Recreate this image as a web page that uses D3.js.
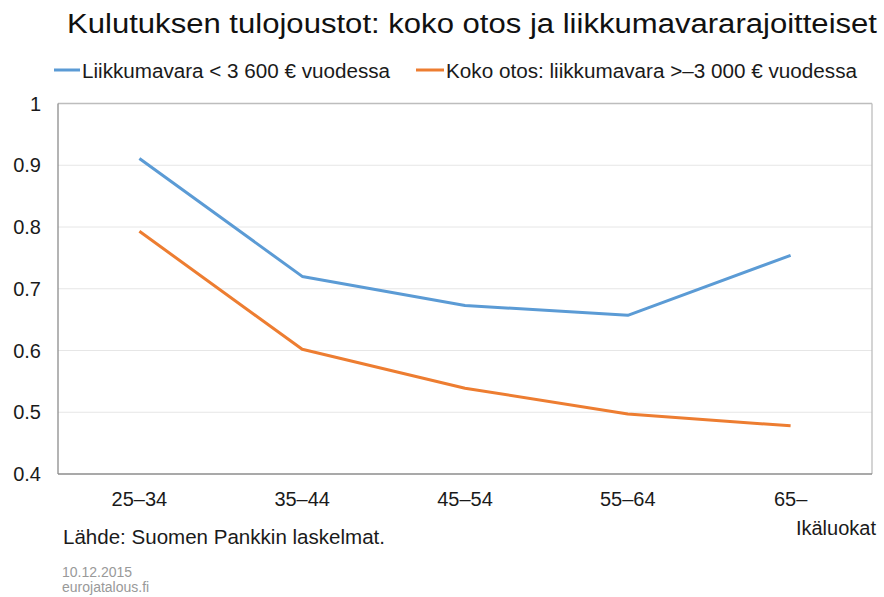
<!DOCTYPE html>
<html><head><meta charset="utf-8">
<script src="https://cdn.jsdelivr.net/npm/d3@7"></script>
<style>body{margin:0;background:#fff;} svg{display:block;font-family:"Liberation Sans",Arial,sans-serif;}</style>
</head><body>
<svg id="c" width="884" height="597"></svg>
<script>
const categories = ["25–34","35–44","45–54","55–64","65–"];
const seriesNames = ["Liikkumavara < 3 600 € vuodessa","Koko otos: liikkumavara >–3 000 € vuodessa"];
const blueValues = [0.911, 0.720, 0.673, 0.657, 0.754];
const orangeValues = [0.793, 0.602, 0.539, 0.497, 0.478];
const yTicks = [0.4, 0.5, 0.6, 0.7, 0.8, 0.9, 1];
const colors = ["#5B9BD5", "#ED7D31"];

const svg = d3.select("#c");
const L = 58, R = 872, T = 103.5, B = 474;
const x = d3.scaleBand().domain(categories).range([L, R]);
const y = d3.scaleLinear().domain([0.4, 1]).range([B, T]);

// gridlines
svg.append("g").selectAll("line").data(yTicks.slice(1, -1)).join("line")
  .attr("x1", L).attr("x2", R).attr("y1", d => y(d)).attr("y2", d => y(d))
  .attr("stroke", "#e6e6e6").attr("stroke-width", 1);

// plot frame
svg.append("line").attr("x1", L).attr("x2", R).attr("y1", T).attr("y2", T).attr("stroke", "#bdbdbd").attr("stroke-width", 1.3);
svg.append("line").attr("x1", R).attr("x2", R).attr("y1", T).attr("y2", B).attr("stroke", "#bdbdbd").attr("stroke-width", 1.3);
svg.append("line").attr("x1", L).attr("x2", L).attr("y1", T).attr("y2", B).attr("stroke", "#8c8c8c").attr("stroke-width", 1.3);
svg.append("line").attr("x1", L).attr("x2", R).attr("y1", B).attr("y2", B).attr("stroke", "#8c8c8c").attr("stroke-width", 1.3);

// y labels
svg.append("g").selectAll("text").data(yTicks).join("text")
  .attr("x", 41).attr("y", d => y(d) + 7).attr("text-anchor", "end")
  .attr("font-size", 20).attr("fill", "#1a1a1a").text(d => d3.format("")(d));

// x labels
svg.append("g").selectAll("text").data(categories).join("text")
  .attr("x", d => x(d) + x.bandwidth() / 2)
  .attr("y", 506).attr("text-anchor", "middle")
  .attr("font-size", 20).attr("fill", "#1a1a1a").text(d => d);

// lines
const line = d3.line().x((d, i) => x(categories[i]) + x.bandwidth() / 2).y(d => y(d));
[blueValues, orangeValues].forEach((vals, k) => {
  svg.append("path").datum(vals).attr("d", line).attr("fill", "none")
    .attr("stroke", colors[k]).attr("stroke-width", 3).attr("stroke-linejoin", "round");
});

// title
svg.append("text").attr("x", 67).attr("y", 33).attr("font-size", 27)
  .attr("textLength", 810).attr("lengthAdjust", "spacingAndGlyphs")
  .attr("fill", "#111").text("Kulutuksen tulojoustot: koko otos ja liikkumavararajoitteiset");

// legend
const legend = [
  {x1: 54, x2: 80, tx: 82, len: 308},
  {x1: 416, x2: 444, tx: 446, len: 411}
];
legend.forEach((l, k) => {
  svg.append("line").attr("x1", l.x1).attr("x2", l.x2).attr("y1", 70).attr("y2", 70)
    .attr("stroke", colors[k]).attr("stroke-width", 3);
  svg.append("text").attr("x", l.tx).attr("y", 77.5).attr("font-size", 19.5)
    .attr("textLength", l.len).attr("lengthAdjust", "spacingAndGlyphs")
    .attr("fill", "#1a1a1a").text(seriesNames[k]);
});

// axis title
svg.append("text").attr("x", 876).attr("y", 535).attr("text-anchor", "end")
  .attr("font-size", 20).attr("fill", "#1a1a1a").text("Ikäluokat");

// source
svg.append("text").attr("x", 63).attr("y", 544).attr("font-size", 20.5)
  .attr("textLength", 322).attr("lengthAdjust", "spacingAndGlyphs")
  .attr("fill", "#1a1a1a").text("Lähde: Suomen Pankkin laskelmat.");
svg.append("text").attr("x", 62).attr("y", 577).attr("font-size", 14)
  .attr("fill", "#999").text("10.12.2015");
svg.append("text").attr("x", 62).attr("y", 592).attr("font-size", 14)
  .attr("fill", "#999").text("eurojatalous.fi");
</script>
</body></html>
